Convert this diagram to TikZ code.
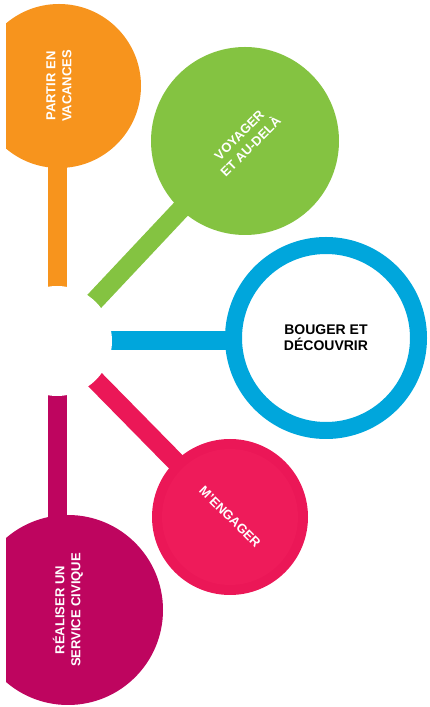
\documentclass[tikz,border=0pt]{standalone}
\usepackage{fontspec}
\setmainfont{Liberation Sans}
\usetikzlibrary{backgrounds}
\definecolor{orange-theme}{HTML}{F7941D}
\definecolor{green-theme}{HTML}{84C341}
\definecolor{blue-theme}{HTML}{00A6DC}
\definecolor{pink-theme}{HTML}{EB1757}
\definecolor{pink-inner}{HTML}{EE1B5A}
\definecolor{magenta-theme}{HTML}{BE055F}
\tikzset{
    theme-circle/.style = {circle, inner sep=0pt, text=white, align=center, font=\bfseries\fontsize{13}{16}\selectfont},
    theme-stem/.style = {line width=19pt},
}

\begin{document}
\begin{tikzpicture}[x=1pt, y=1pt]
\useasboundingbox (0,0) rectangle (429,707);
\clip (6,0) rectangle (429,707);
\node[circle, fill=white, minimum size=110pt, inner sep=0pt] (hub) at (57,366) {};
\node[theme-circle, fill=orange-theme, minimum size=164pt, rotate=90] (partir) at (59,621) {PARTIR EN\\VACANCES};
\node[theme-circle, fill=green-theme, minimum size=188pt, rotate=45] (voyager) at (245,566) {VOYAGER\\ET AU-DELÀ};
\node[theme-circle, draw=blue-theme, line width=17pt, fill=white, text=black, minimum size=185pt, font=\bfseries\fontsize{14}{16}\selectfont] (bouger) at (326,369) {BOUGER ET\\DÉCOUVRIR};
\node[theme-circle, fill=pink-theme, minimum size=156pt, rotate=-45,
      path picture={\fill[pink-inner] (path picture bounding box.center) circle (68pt);}] (engager) at (230,190) {M'ENGAGER};
\node[theme-circle, fill=magenta-theme, minimum size=190pt, rotate=90] (civique) at (68,97) {RÉALISER UN\\SERVICE CIVIQUE};
% stems, under the circles and the white hub
\begin{scope}[on background layer]
    \draw[theme-stem, orange-theme] (hub.center) -- (hub.center |- partir.center);
    \draw[theme-stem, green-theme] (hub.center) -- (voyager.center);
    \draw[theme-stem, blue-theme] (hub.center) -- (hub.center -| bouger.center);
    \draw[theme-stem, pink-theme] (hub.center) -- (engager.center);
    \draw[theme-stem, magenta-theme] (hub.center) -- (hub.center |- civique.center);
\end{scope}
\end{tikzpicture}
\end{document}
